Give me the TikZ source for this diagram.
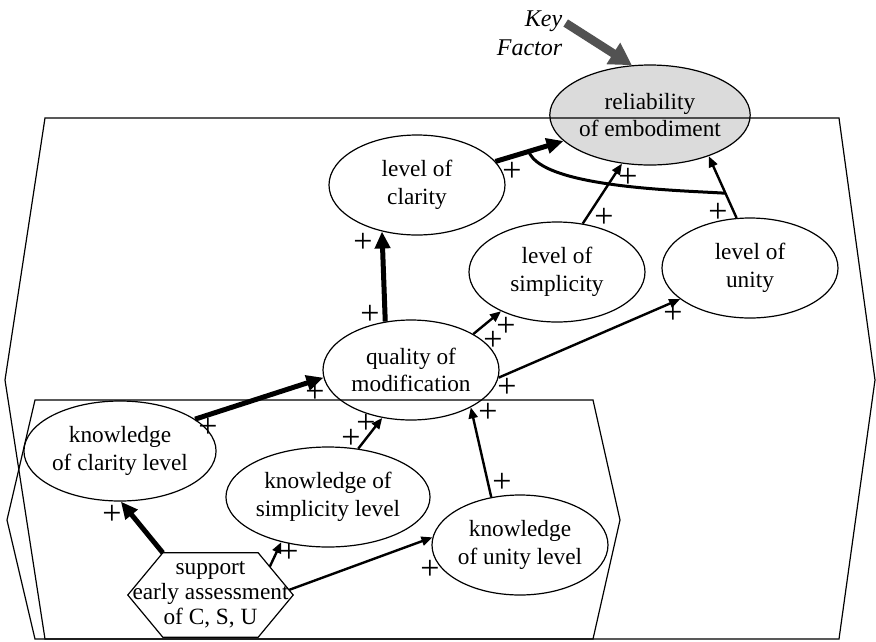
\documentclass[tikz,border=0pt]{standalone}
\usepackage{fontspec}
\setmainfont{Liberation Serif}
\usepackage{tikz}
\usetikzlibrary{arrows.meta,shapes.geometric,positioning,calc}

\begin{document}
\begin{tikzpicture}[
  x=1pt,y=-1pt,
  fac/.style ={ellipse,draw=black,line width=1.2pt,
               minimum width=176pt,minimum height=100pt,inner sep=0pt,
               font=\fontsize{23.3}{27.5}\selectfont,align=center},
  kfac/.style={fac,fill=gray!28},
  hexbox/.style={minimum width=165pt,minimum height=84pt,inner sep=0pt,
               font=\fontsize{23.3}{25}\selectfont,align=center},
  frm/.style ={line width=1.2pt,line join=miter},
  ar/.style  ={-{Triangle[length=11pt,width=9pt]},line width=2.4pt},
  tar/.style ={-{Triangle[length=17pt,width=15pt]},line width=5pt},
  gar/.style ={-{Triangle[length=22pt,width=24pt]},line width=8.5pt,color=black!68},
  pl/.style  ={inner sep=0pt,font=\fontsize{34}{34}\selectfont}
]
\useasboundingbox (0,0) rectangle (876,641);
\node[kfac] (rel)    at (650,115) {reliability\\of embodiment};
\node[fac]  (clar)   at (417,185) {level of\\clarity};
\node[fac]  (simp)   at (557,272) {level of\\simplicity};
\node[fac]  (unity)  at (750,268) {level of\\unity};
\node[fac]  (qual)   at (411,370) {quality of\\modification};
\node[fac]  (kclar)  at (120,451) {knowledge\\of clarity level};
\node[fac]  (ksimp)  at (328,497) {knowledge of\\simplicity level};
\node[fac]  (kunity) at (520,545) {knowledge\\of unity level};
\node[hexbox] (sup)  at (210.5,595) {support\\early assessment\\of C, S, U};
\draw[frm] (sup.west) -- ([xshift=35pt]sup.north west) -- ([xshift=-35pt]sup.north east)
  -- (sup.east) -- ([xshift=-35pt]sup.south east) -- ([xshift=35pt]sup.south west) -- cycle;
\node[font=\fontsize{24}{29}\selectfont\itshape,align=right] (keyf) at (529.5,33) {Key\\Factor};

\draw[frm] (45,118) -- (839,118) -- (875,380) -- (839,639) -- (45,639) -- (5,380) -- cycle;
\draw[frm] (35,400) -- (593,400) -- (620,520) -- (593,639) -- (35,639) -- (7,520) -- cycle;

\draw[gar] ([yshift=10pt]keyf.east) -- (rel.110);
\draw[tar] (clar) -- coordinate[pos=.49] (arcA) (rel);
\draw[ar]  (unity.105) -- coordinate[pos=.4] (arcB) (rel.-35);
\draw[line width=3pt] (arcA) to[out=-70,in=176,looseness=.5] (arcB);
\foreach \a/\b in {simp.62/rel.-120,qual.30/simp.-145,qual.-5/unity.-156,
                   ksimp.58/qual.-121,kunity.121/qual.-32}
  \draw[ar] (\a) -- (\b);
\foreach \a/\b in {qual.118/clar.-127,kclar.23/qual.185}
  \draw[tar] (\a) -- (\b);
\draw[tar] ([xshift=35pt]sup.north west) -- (kclar.-89);
\draw[ar]  ($([xshift=-35pt]sup.north east)!.33!(sup.east)$) -- (ksimp.-136);
\draw[ar]  ($(sup.east)!.12!([xshift=-35pt]sup.north east)$) -- (kunity.175);

\foreach \n/\px/\py in {1/512/172,2/628/178,3/604/218,4/718/213,5/363/243,
                        6/370/315,7/506/327,8/493/341,9/673/314,10/507/388,
                        11/315/393,12/208/428,13/366/424,14/351/439,15/488/413,
                        16/502/483,17/112/515,18/289/553,19/430/570}
  \node[pl] (p\n) at (\px,\py) {+};
\end{tikzpicture}
\end{document}
